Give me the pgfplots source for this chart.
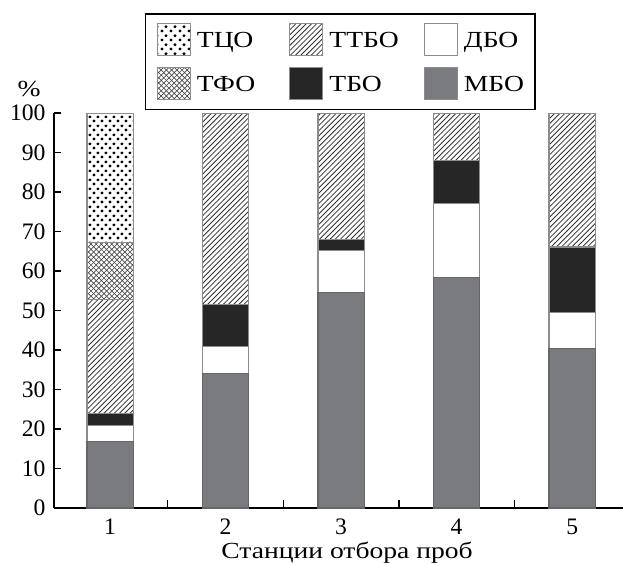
\documentclass[border=0pt]{standalone}
\usepackage{fontspec}
\setmainfont{Liberation Serif}
\newfontfamily\widefont[FakeStretch=1.2]{Liberation Serif}
\usepackage{pgfplots}
\usepackage{pgfplotstable}
\pgfplotsset{compat=1.18}
\usetikzlibrary{patterns}

\pgfdeclarepatternformonly{bigdots}{\pgfqpoint{0pt}{0pt}}{\pgfqpoint{4.2pt}{4.5pt}}{\pgfqpoint{4.2pt}{4.5pt}}{%
 \pgfpathcircle{\pgfqpoint{1.05pt}{1.125pt}}{0.85pt}%
 \pgfpathcircle{\pgfqpoint{3.15pt}{3.375pt}}{0.85pt}%
 \pgfusepath{fill}}
\pgfdeclarepatternformonly{diagcross}{\pgfqpoint{-1pt}{-1pt}}{\pgfqpoint{3.6pt}{3.6pt}}{\pgfqpoint{2.6pt}{2.6pt}}{%
 \pgfsetlinewidth{0.35pt}%
 \pgfpathmoveto{\pgfqpoint{0pt}{0pt}}\pgfpathlineto{\pgfqpoint{2.7pt}{2.7pt}}%
 \pgfpathmoveto{\pgfqpoint{0pt}{2.6pt}}\pgfpathlineto{\pgfqpoint{2.7pt}{-0.1pt}}%
 \pgfusepath{stroke}}
\pgfdeclarepatternformonly{nelines}{\pgfqpoint{-1pt}{-1pt}}{\pgfqpoint{3.6pt}{3.6pt}}{\pgfqpoint{2.6pt}{2.6pt}}{%
 \pgfsetlinewidth{0.4pt}%
 \pgfpathmoveto{\pgfqpoint{0pt}{0pt}}\pgfpathlineto{\pgfqpoint{2.7pt}{2.7pt}}%
 \pgfusepath{stroke}}

\definecolor{mbo}{RGB}{122,123,127}
\definecolor{tbo}{RGB}{38,38,38}
\definecolor{edge}{RGB}{140,140,140}

\pgfplotstableread{
x MBO DBO TBO TTBO
1 16.8 4.1 3.1 28.8
2 34.0 6.9 10.6 48.5
3 54.6 10.5 2.9 32.0
4 58.4 18.7 10.8 12.1
5 40.4 9.0 16.7 33.9
}\data

\newcommand{\fnt}{\fontsize{11.8}{13}\selectfont}
\newcommand{\wfnt}{\fontsize{11.5}{13}\widefont}

\begin{document}
\begin{tikzpicture}
\useasboundingbox (-27pt,-28pt) rectangle (284.5pt,254pt);
\begin{axis}[
 scale only axis, width=284.5pt, height=197.5pt,
 xmin=0.515, xmax=5.44, ymin=0, ymax=100,
 axis lines=left, axis line style={-, line width=0.7pt},
 ybar stacked, bar width=0.4,
 xtick={1,2,3,4,5}, minor xtick={1.5,2.5,3.5,4.5},
 ytick={0,10,...,100},
 tick align=inside,
 tick style={line width=0.7pt, black},
 major x tick style={draw=none},
 minor tick length=4pt, major tick length=3.5pt,
 /pgf/number format/assume math mode=true,
 tick label style={font=\fnt},
 xticklabel style={yshift=-2pt},
 yticklabel style={xshift=-0.7pt},
 xlabel={Станции отбора проб},
 xlabel style={font=\wfnt, at={(axis description cs:0.515,0)}, anchor=base, yshift=-25pt},
 ylabel={\%},
 ylabel style={font=\wfnt, rotate=-90, at={(axis description cs:0,1)}, anchor=center, xshift=-12.5pt, yshift=12.25pt},
 legend columns=3,
 legend cell align=left,
 legend image code/.code={\draw[#1] (0pt,-8pt) rectangle (16.5pt,8pt);},
 legend style={font=\wfnt, at={(axis description cs:0,1)}, anchor=north west,
   xshift=45.5pt, yshift=49.85pt, draw=black, line width=0.7pt,
   inner xsep=5.5pt, inner ysep=4.5pt, row sep=5.5pt, column sep=3pt,
   nodes={inner sep=0pt, text depth=0pt},
   /tikz/column 2/.style={column sep=17pt},
   /tikz/column 4/.style={column sep=12.5pt}},
]
\addlegendimage{draw=edge, line width=0.6pt, pattern=bigdots, pattern color=black}
\addlegendentry{ТЦО}
\addlegendimage{draw=edge, line width=0.6pt, pattern=nelines, pattern color=black!80}
\addlegendentry{ТТБО}
\addlegendimage{draw=edge, line width=0.6pt, fill=white}
\addlegendentry{ДБО}
\addlegendimage{draw=edge, line width=0.6pt, pattern=diagcross, pattern color=black!70}
\addlegendentry{ТФО}
\addlegendimage{draw=edge, line width=0.6pt, fill=tbo}
\addlegendentry{ТБО}
\addlegendimage{draw=edge, line width=0.6pt, fill=mbo}
\addlegendentry{МБО}

\addplot[forget plot, draw=black!60, line width=0.6pt, fill=mbo] table[x=x, y=MBO] {\data};
\addplot[forget plot, draw=edge, line width=0.6pt, fill=white] table[x=x, y=DBO] {\data};
\addplot[forget plot, draw=edge, line width=0.6pt, fill=tbo] table[x=x, y=TBO] {\data};
\addplot[forget plot, draw=edge, line width=0.6pt, pattern=nelines, pattern color=black!80] table[x=x, y=TTBO] {\data};
\addplot[forget plot, draw=edge, line width=0.6pt, pattern=diagcross, pattern color=black!70] coordinates {(1,14.5)};
\addplot[forget plot, draw=edge, line width=0.6pt, pattern=bigdots, pattern color=black] coordinates {(1,32.7)};
\end{axis}
\end{tikzpicture}
\end{document}
